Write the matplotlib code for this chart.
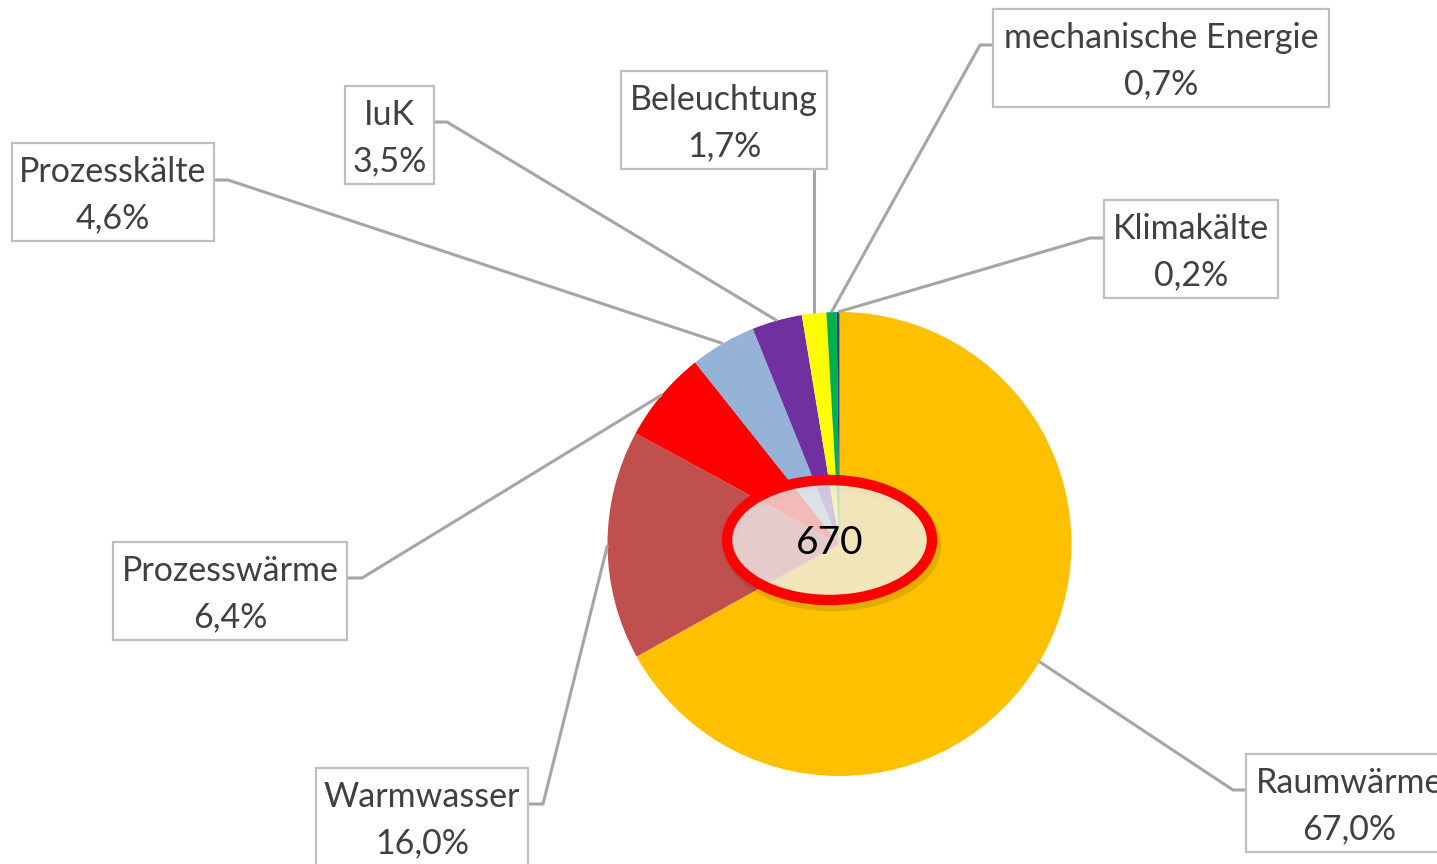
import matplotlib
matplotlib.use("Agg")
import matplotlib.pyplot as plt
from matplotlib.patches import Rectangle, Ellipse
import numpy as np

# ---- data ----
categories = ["Raumwärme", "Warmwasser", "Prozesswärme", "Prozesskälte",
              "IuK", "Beleuchtung", "mechanische Energie", "Klimakälte"]
shares = [67.0, 16.0, 6.4, 4.6, 3.5, 1.7, 0.7, 0.2]
colors = ["#FFC000", "#C0504D", "#FF0000", "#95B3D7",
          "#7030A0", "#FFFF00", "#00B050", "#1F497D"]
total_label = "670"

W, H = 1437, 864
plt.rcParams['font.family'] = ['Lato', 'DejaVu Sans']

fig = plt.figure(figsize=(W / 100, H / 100), dpi=100)
ax = fig.add_axes([0, 0, 1, 1])

def Y(ypx):
    return H - ypx

cx, cy, R = 839.5, Y(544), 232
wedges, _ = ax.pie(shares, colors=colors, startangle=90, counterclock=False,
                   center=(cx, cy), radius=R, wedgeprops=dict(linewidth=0))

# label boxes: (left, top, width, height) in pixels, elbow points
boxes = {
    "Raumwärme": (1246, 754, 207, 98),
    "Warmwasser": (316, 768, 212, 98),
    "Prozesswärme": (113, 542, 234, 98),
    "Prozesskälte": (12, 143, 202, 98),
    "IuK": (345, 86, 89, 98),
    "Beleuchtung": (621, 71, 206, 98),
    "mechanische Energie": (993, 9, 336, 98),
    "Klimakälte": (1104, 200, 174, 98),
}
elbows = {
    "Raumwärme": [(1233, 790), (1246, 790)],
    "Warmwasser": [(543, 804), (528, 804)],
    "Prozesswärme": [(362, 578), (347, 578)],
    "Prozesskälte": [(228, 180), (214, 180)],
    "IuK": [(447, 122), (434, 122)],
    "Beleuchtung": None,
    "mechanische Energie": [(980, 45), (993, 45)],
    "Klimakälte": [(1090, 238), (1104, 238)],
}

line_col = "#A6A6A6"
for w, name, val in zip(wedges, categories, shares):
    mid = np.deg2rad((w.theta1 + w.theta2) / 2)
    ax_ = cx + R * np.cos(mid)
    ay_ = cy + R * np.sin(mid)
    l, t, bw, bh = boxes[name]
    if elbows[name] is None:
        xs = [ax_, ax_]
        ys = [ay_, Y(t + bh)]
    else:
        xs = [ax_] + [p[0] for p in elbows[name]]
        ys = [ay_] + [Y(p[1]) for p in elbows[name]]
    ax.plot(xs, ys, color=line_col, lw=2.2, zorder=1, solid_capstyle='butt')
    ax.add_patch(Rectangle((l, Y(t + bh)), bw, bh, facecolor="white",
                           edgecolor="#BFBFBF", lw=1.6, zorder=3))
    xc = l + bw / 2
    pct = f"{val:.1f}".replace(".", ",") + "%"
    ax.text(xc, Y(t + 29), name, ha="center", va="center", fontsize=24.5,
            color="#404040", zorder=4)
    ax.text(xc, Y(t + 75), pct, ha="center", va="center", fontsize=24.5,
            color="#404040", zorder=4)

# central ellipse
ecx, ecy = 829.5, Y(540)
ax.add_patch(Ellipse((ecx + 3, ecy - 5), 205, 120, facecolor="none",
                     edgecolor=(0, 0, 0, 0.10), lw=9, zorder=4))
ax.add_patch(Ellipse((ecx, ecy), 205, 120, facecolor=(0.94, 0.94, 0.94, 0.78),
                     edgecolor="none", zorder=5))
ax.add_patch(Ellipse((ecx, ecy), 205, 120, facecolor="none",
                     edgecolor="#FF0000", lw=7.5, zorder=6))
ax.text(ecx, ecy - 3, total_label, ha="center", va="center", fontsize=28,
        color="black", zorder=7)

ax.set_xlim(0, W)
ax.set_ylim(0, H)
ax.set_aspect("auto")
ax.axis("off")
fig.savefig("out.png", dpi=100)
